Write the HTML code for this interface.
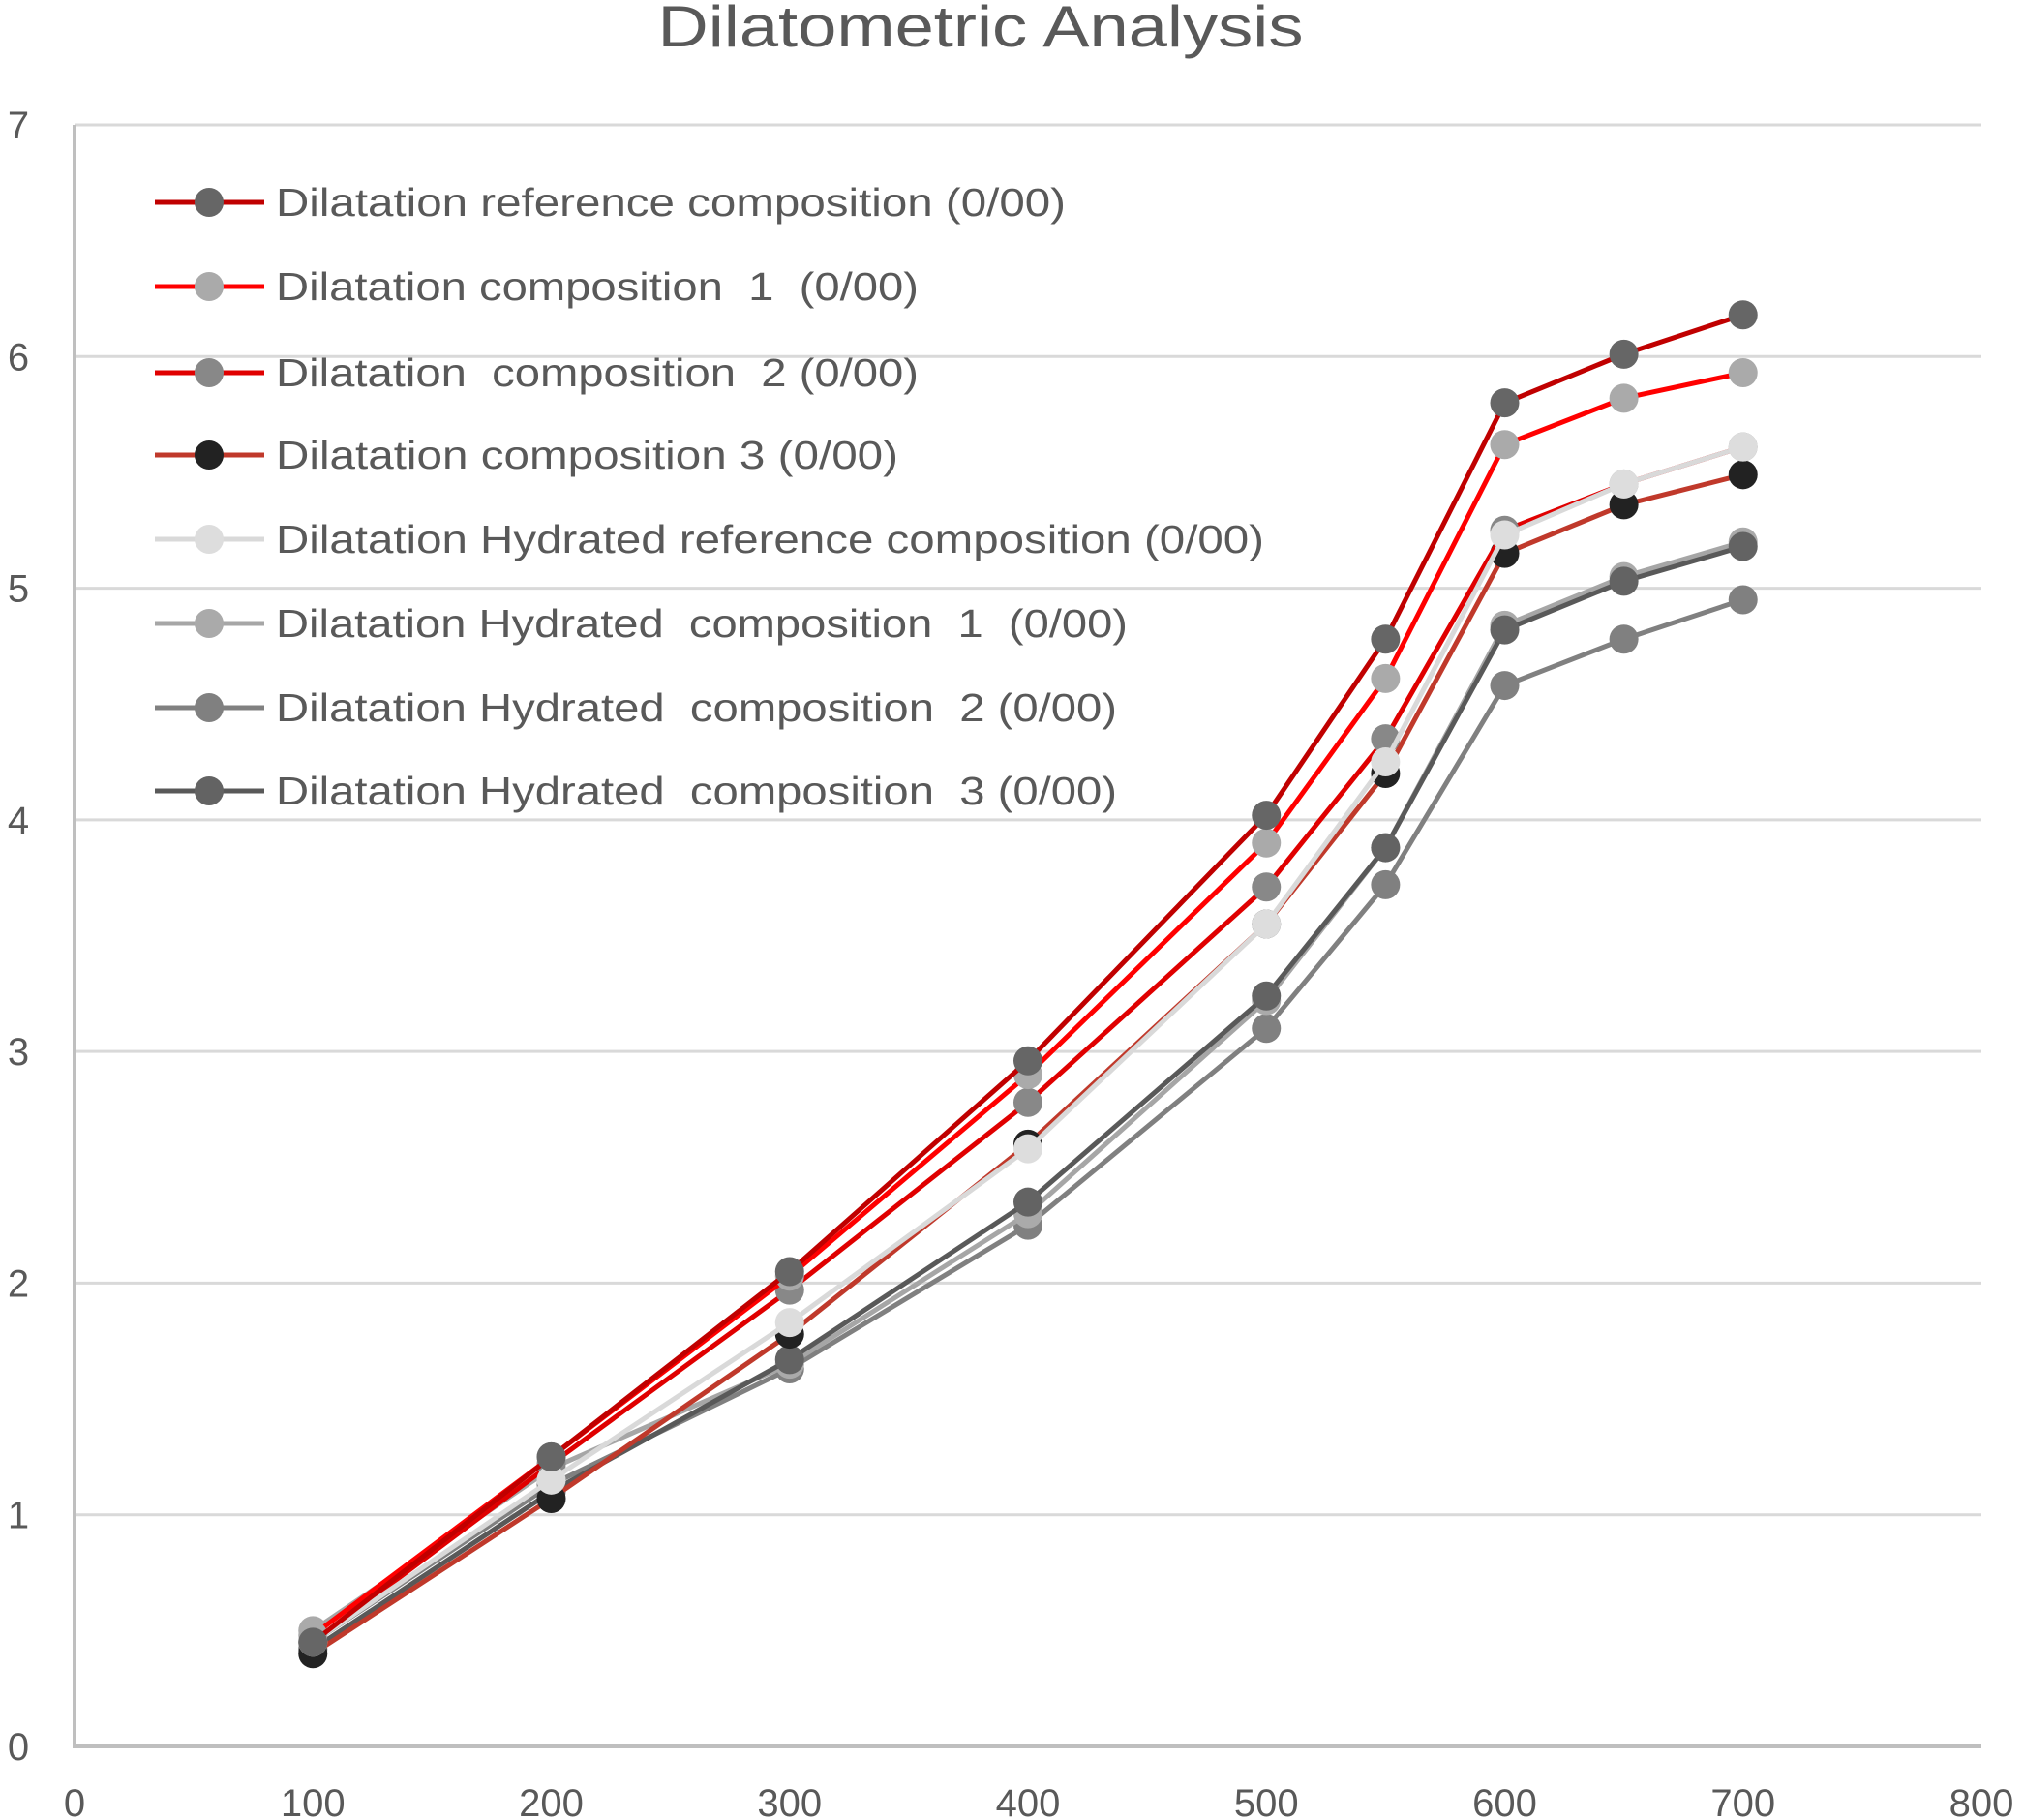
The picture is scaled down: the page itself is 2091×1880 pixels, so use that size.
<!DOCTYPE html>
<html><head><meta charset="utf-8"><style>
html,body{margin:0;padding:0;background:#fff;}
svg{display:block;font-family:"Liberation Sans",sans-serif;}
</style></head><body>
<svg id="chart" width="2091" height="1880" viewBox="0 0 2091 1880" xmlns="http://www.w3.org/2000/svg">
<text x="1013" y="48" text-anchor="middle" font-size="60" fill="#595959" textLength="667" lengthAdjust="spacingAndGlyphs">Dilatometric Analysis</text>
<g id="grid"></g><g id="axes"></g><g id="series"></g><g id="legend"></g>
</svg>
<script>
const temps = [100,200,300,400,500,550,600,650,700];
const seriesNames = ["Dilatation reference composition (0/00)","Dilatation composition  1  (0/00)","Dilatation  composition  2 (0/00)","Dilatation composition 3 (0/00)","Dilatation Hydrated reference composition (0/00)","Dilatation Hydrated  composition  1  (0/00)","Dilatation Hydrated  composition  2 (0/00)","Dilatation Hydrated  composition  3 (0/00)"];
const refComp = [0.45,1.25,2.05,2.96,4.02,4.78,5.80,6.01,6.18];
const comp1 = [0.48,1.25,2.03,2.90,3.90,4.61,5.62,5.82,5.93];
const comp2 = [0.45,1.22,1.97,2.78,3.71,4.35,5.25,5.45,5.61];
const comp3 = [0.40,1.07,1.78,2.60,3.55,4.20,5.15,5.36,5.49];
const hydRef = [0.45,1.15,1.83,2.58,3.55,4.25,5.23,5.45,5.61];
const hydComp1 = [0.50,1.20,1.65,2.30,3.22,3.88,4.84,5.05,5.20];
const hydComp2 = [0.45,1.13,1.63,2.25,3.10,3.72,4.58,4.78,4.95];
const hydComp3 = [0.42,1.10,1.67,2.35,3.24,3.88,4.82,5.03,5.18];
const xTicks = [0,100,200,300,400,500,600,700,800];
const yTicks = [0,1,2,3,4,5,6,7];

const lineColors = ["#c00000","#ff0000","#e00000","#c0392b","#d9d9d9","#a6a6a6","#808080","#595959"];
const markerColors = ["#666666","#aaaaaa","#888888","#222222","#dddddd","#aaaaaa","#808080","#636363"];
const allSeries = [refComp,comp1,comp2,comp3,hydRef,hydComp1,hydComp2,hydComp3];
const drawOrder = [6,5,7,3,2,4,1,0];
const legendWidths = [816,664,664,643,1021,880,869,869];

const X0=77,X1=2047,Y0=1804,Y1=129;
const xs = v => X0 + (v/800)*(X1-X0);
const ys = v => Y0 - (v/7)*(Y0-Y1);
const NS="http://www.w3.org/2000/svg";
function mk(tag,attrs,parent){const e=document.createElementNS(NS,tag);for(const k in attrs)e.setAttribute(k,attrs[k]);parent.appendChild(e);return e;}
const grid=document.getElementById('grid'),axes=document.getElementById('axes'),ser=document.getElementById('series'),leg=document.getElementById('legend');
yTicks.forEach(t=>{
  if(t>0){const l=mk('line',{x1:X0,x2:X1,y1:ys(t),y2:ys(t),stroke:'#d9d9d9','stroke-width':3},grid);
  
  }
  const tx=mk('text',{x:19,y:ys(t)+14,'font-size':40,fill:'#595959','text-anchor':'middle'},axes);
  tx.textContent=t;
  
  
});
xTicks.forEach(t=>{
  const tx=mk('text',{x:xs(t),y:1876,'font-size':40,fill:'#595959','text-anchor':'middle'},axes);
  tx.textContent=t;
  
  
});
const ax=mk('path',{d:`M${X0} ${Y1} V${Y0} H${X1}`,stroke:'#bfbfbf','stroke-width':4,fill:'none'},axes);


drawOrder.forEach(i=>{
  const g=mk('g',{},ser);
  
  
  const d=allSeries[i].map((v,j)=>(j?'L':'M')+xs(temps[j])+' '+ys(v)).join(' ');
  const p=mk('path',{d:d,stroke:lineColors[i],'stroke-width':5,fill:'none','stroke-linejoin':'round'},g);
  
  
  allSeries[i].forEach((v,j)=>{
    const c=mk('circle',{cx:xs(temps[j]),cy:ys(v),r:15,fill:markerColors[i]},g);
    
    
  });
});
const legY=[209,296,385,470,557,644,731,817];
seriesNames.forEach((n,i)=>{
  const g=mk('g',{},leg);
  
  
  mk('line',{x1:160,x2:273,y1:legY[i],y2:legY[i],stroke:lineColors[i],'stroke-width':5},g);
  mk('circle',{cx:216,cy:legY[i],r:15,fill:markerColors[i]},g);
  const t=mk('text',{x:285,y:legY[i]+14,'font-size':41,fill:'#595959',textLength:legendWidths[i],lengthAdjust:'spacingAndGlyphs'},g);
  t.textContent=n;
  t.style.whiteSpace='pre';
});
</script>
</body></html>
